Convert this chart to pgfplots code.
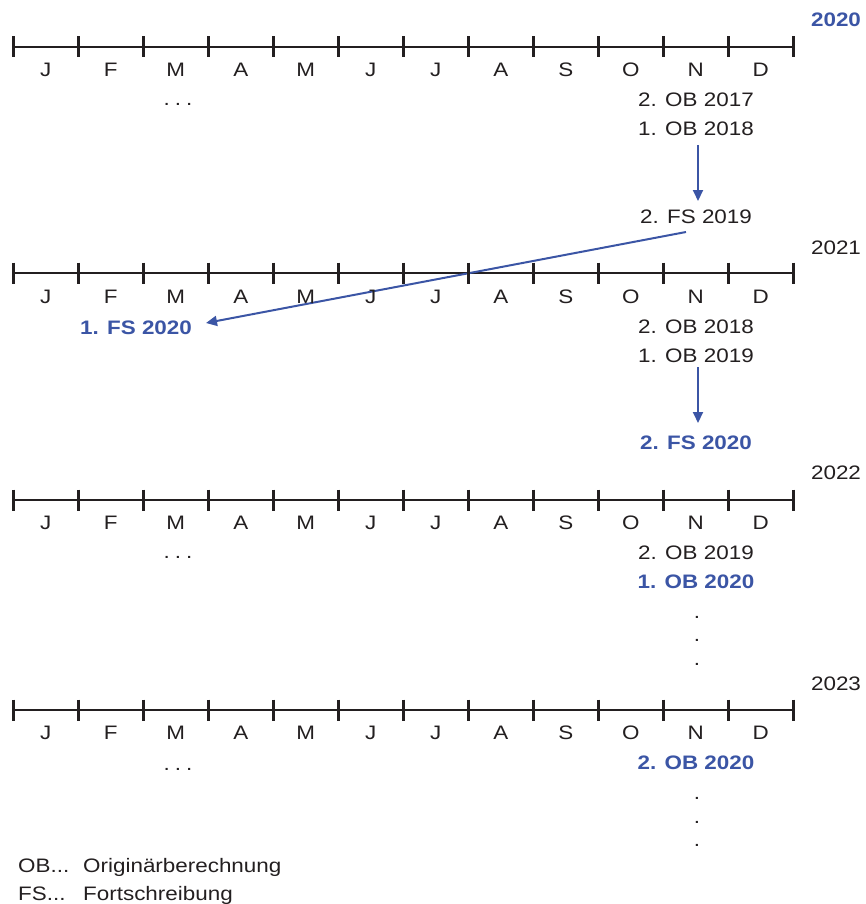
\documentclass[border=0pt]{standalone}
\usepackage{pgfplots}
\usepackage{pgfplotstable}
\pgfplotsset{compat=1.18}
\usepackage{fontspec}
\setmainfont{Liberation Sans}[FakeStretch=1.15]
\usetikzlibrary{arrows.meta}
\definecolor{myblue}{RGB}{59,85,165}
\definecolor{ink}{RGB}{35,31,32}
\newcommand\fs{\fontsize{19.5}{23}\selectfont}
\newcommand\sdots{.\hspace{5pt}.\hspace{5pt}.}
\newcommand\months[1]{%
 \node[lbl] at (axis cs:45.8,#1) {J};
 \node[lbl] at (axis cs:110.8,#1) {F};
 \node[lbl] at (axis cs:175.8,#1) {M};
 \node[lbl] at (axis cs:240.8,#1) {A};
 \node[lbl] at (axis cs:305.8,#1) {M};
 \node[lbl] at (axis cs:370.8,#1) {J};
 \node[lbl] at (axis cs:435.8,#1) {J};
 \node[lbl] at (axis cs:500.8,#1) {A};
 \node[lbl] at (axis cs:565.8,#1) {S};
 \node[lbl] at (axis cs:630.8,#1) {O};
 \node[lbl] at (axis cs:695.8,#1) {N};
 \node[lbl] at (axis cs:760.8,#1) {D};}
\pgfplotstableread{
x r1 r2 r3 r4
13.3 47 273 500 710
78.3 47 273 500 710
143.3 47 273 500 710
208.3 47 273 500 710
273.3 47 273 500 710
338.3 47 273 500 710
403.3 47 273 500 710
468.3 47 273 500 710
533.3 47 273 500 710
598.3 47 273 500 710
663.3 47 273 500 710
728.3 47 273 500 710
793.3 47 273 500 710
}\tickpos
\begin{document}
\begin{tikzpicture}[
  lbl/.style={anchor=base, text=ink, font=\fs, inner sep=0pt},
  blbl/.style={anchor=base, text=myblue, font=\fs\bfseries, inner sep=0pt},
  llbl/.style={anchor=base west, text=ink, font=\fs, inner sep=0pt}]
\begin{axis}[width=866pt,height=904pt,scale only axis,
  xmin=0,xmax=866,ymin=0,ymax=904,y dir=reverse,hide axis,clip=false]
% timelines
\addplot[ink, line width=2.8pt] coordinates {(13.3,47) (793.3,47)};
\addplot[ink, line width=2.8pt] coordinates {(13.3,273) (793.3,273)};
\addplot[ink, line width=2.8pt] coordinates {(13.3,500) (793.3,500)};
\addplot[ink, line width=2.8pt] coordinates {(13.3,710) (793.3,710)};
% ticks
\addplot[ink, only marks, mark=|, mark size=10.5pt, mark options={line width=2.8pt}] table[x=x, y=r1] {\tickpos};
\addplot[ink, only marks, mark=|, mark size=10.5pt, mark options={line width=2.8pt}] table[x=x, y=r2] {\tickpos};
\addplot[ink, only marks, mark=|, mark size=10.5pt, mark options={line width=2.8pt}] table[x=x, y=r3] {\tickpos};
\addplot[ink, only marks, mark=|, mark size=10.5pt, mark options={line width=2.8pt}] table[x=x, y=r4] {\tickpos};
% arrows
\addplot[myblue, line width=2pt, -{Triangle[length=11pt,width=10pt]}] coordinates {(698,145) (698,201)};
\addplot[myblue, line width=2pt, -{Triangle[length=11pt,width=10pt]}] coordinates {(686,232) (206,323)};
\addplot[myblue, line width=2pt, -{Triangle[length=11pt,width=10pt]}] coordinates {(698,367) (698,423)};
% month labels
\months{77}
\months{303}
\months{529}
\months{739}
% years
\node[blbl] at (axis cs:836,27) {2020};
\node[lbl] at (axis cs:836,254) {2021};
\node[lbl] at (axis cs:836,479) {2022};
\node[lbl] at (axis cs:836,690) {2023};
% row 1
\node[lbl] at (axis cs:178,106) {\sdots};
\node[lbl] at (axis cs:696,106.5) {2. OB 2017};
\node[lbl] at (axis cs:696,136) {1. OB 2018};
\node[lbl] at (axis cs:696,223) {2. FS 2019};
% row 2
\node[blbl] at (axis cs:136,334) {1. FS 2020};
\node[lbl] at (axis cs:696,333) {2. OB 2018};
\node[lbl] at (axis cs:696,362) {1. OB 2019};
\node[blbl] at (axis cs:696,449) {2. FS 2020};
% row 3
\node[lbl] at (axis cs:178,558) {\sdots};
\node[lbl] at (axis cs:696,559) {2. OB 2019};
\node[blbl] at (axis cs:696,588) {1. OB 2020};
\node[lbl] at (axis cs:697,618) {.};
\node[lbl] at (axis cs:697,641) {.};
\node[lbl] at (axis cs:697,665) {.};
% row 4
\node[lbl] at (axis cs:178,770) {\sdots};
\node[blbl] at (axis cs:696,769) {2. OB 2020};
\node[lbl] at (axis cs:697,799) {.};
\node[lbl] at (axis cs:697,823) {.};
\node[lbl] at (axis cs:697,846) {.};
% legend
\node[llbl] at (axis cs:18,872) {OB...};
\node[llbl] at (axis cs:83,872) {Originärberechnung};
\node[llbl] at (axis cs:18,900) {FS...};
\node[llbl] at (axis cs:83,900) {Fortschreibung};
\coordinate (bl) at (rel axis cs:0,0);
\coordinate (tr) at (rel axis cs:1,1);
\end{axis}
\pgfresetboundingbox
\path (bl) rectangle (tr);
\end{tikzpicture}
\end{document}
